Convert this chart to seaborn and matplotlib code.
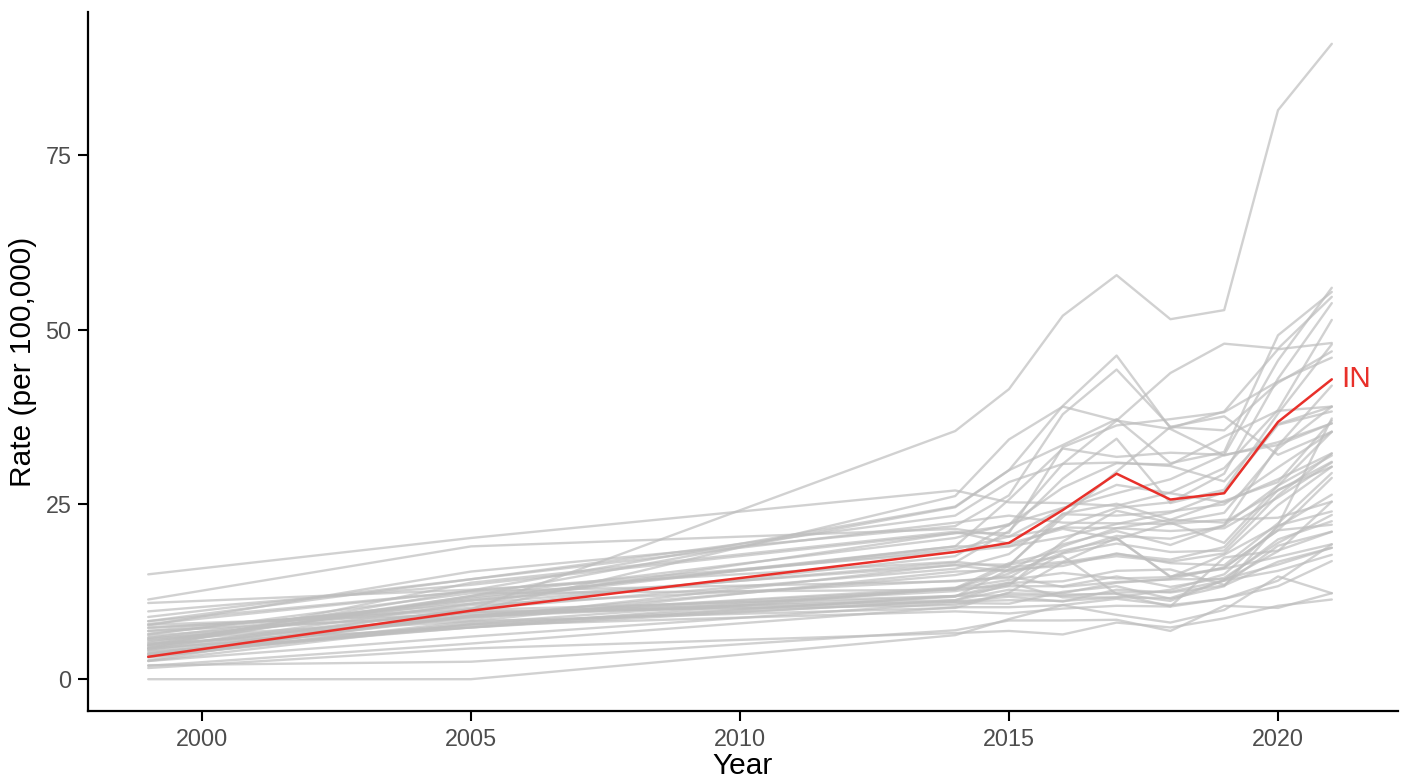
import pandas as pd
import seaborn as sns
import matplotlib.pyplot as plt

# Drug overdose death rates (per 100,000) by state
years = [1999, 2005, 2014, 2015, 2016, 2017, 2018, 2019, 2020, 2021]

AL = [3.2, 7.8, 11.8, 15.7, 16.2, 18.0, 16.6, 16.3, 22.3, 29.5]
AK = [10.9, 12.8, 16.8, 16.0, 16.8, 20.2, 14.6, 17.8, 22.0, 37.3]
AZ = [8.3, 12.6, 18.2, 19.0, 20.3, 22.2, 23.8, 26.8, 36.4, 38.3]
AR = [3.6, 8.9, 12.6, 13.8, 14.0, 15.5, 15.7, 13.5, 19.1, 21.1]
CA = [7.8, 9.3, 11.1, 11.3, 11.2, 11.7, 12.8, 15.0, 21.8, 26.4]
CO = [6.5, 11.3, 16.3, 15.4, 16.6, 17.6, 16.8, 18.0, 24.9, 30.4]
CT = [7.3, 10.2, 17.6, 22.1, 27.4, 30.9, 30.7, 34.7, 38.4, 39.0]
DE = [6.9, 10.8, 20.9, 22.0, 30.8, 37.0, 43.8, 48.0, 47.3, 54.7]
FL = [6.4, 12.3, 12.8, 16.2, 23.7, 25.1, 22.8, 25.5, 28.2, 37.0]
GA = [3.6, 7.4, 11.9, 13.3, 13.3, 14.7, 13.2, 14.5, 19.5, 23.5]
HI = [6.2, 9.6, 11.3, 12.8, 12.3, 13.8, 14.3, 14.3, 16.4, 18.8]
ID = [3.9, 7.4, 13.0, 14.2, 15.2, 14.4, 14.6, 15.8, 17.5, 19.3]
IL = [5.7, 10.6, 14.1, 14.5, 19.0, 21.6, 22.8, 22.4, 27.0, 31.1]
IN = [3.2, 9.8, 18.2, 19.5, 24.2, 29.4, 25.7, 26.6, 36.8, 42.9]
IA = [1.9, 5.1, 10.3, 10.3, 10.6, 11.5, 10.6, 11.5, 13.3, 16.9]
KS = [2.6, 7.9, 11.1, 11.8, 11.1, 12.8, 12.4, 13.4, 16.8, 18.8]
KY = [4.9, 12.7, 24.7, 29.9, 33.5, 37.2, 30.9, 32.5, 49.2, 55.4]
LA = [5.4, 11.2, 19.0, 19.0, 21.8, 24.5, 25.3, 29.4, 43.0, 53.8]
ME = [4.4, 10.8, 16.7, 21.2, 28.7, 34.4, 25.2, 27.1, 38.0, 47.9]
MD = [9.7, 13.5, 20.9, 20.9, 33.2, 36.3, 37.2, 38.2, 42.6, 46.0]
MA = [5.9, 11.5, 19.0, 25.7, 33.0, 31.8, 32.4, 32.1, 33.5, 36.6]
MI = [4.9, 11.7, 18.6, 20.4, 24.4, 27.8, 26.6, 25.3, 28.6, 32.3]
MN = [2.6, 6.1, 10.9, 10.8, 12.5, 13.3, 11.5, 13.3, 22.0, 24.0]
MS = [3.7, 9.6, 10.6, 12.3, 12.1, 12.2, 11.2, 14.2, 20.0, 22.6]
MO = [4.2, 10.0, 15.8, 17.9, 23.6, 23.4, 24.0, 25.0, 30.3, 35.4]
MT = [4.8, 8.9, 11.9, 13.8, 11.7, 11.7, 11.6, 14.1, 15.5, 17.8]
NE = [1.6, 4.4, 6.6, 6.9, 6.4, 8.1, 7.4, 8.7, 10.5, 11.4]
NV = [11.4, 19.0, 21.5, 20.4, 21.7, 21.6, 21.2, 21.6, 26.0, 31.0]
NH = [2.7, 9.7, 26.2, 34.3, 39.0, 37.0, 35.8, 32.0, 33.9, 36.6]
NJ = [6.9, 9.0, 14.9, 16.3, 23.2, 29.7, 36.1, 37.6, 32.1, 35.4]
NM = [15.0, 20.2, 27.0, 25.3, 25.2, 24.8, 26.7, 30.2, 38.5, 51.4]
NY = [5.1, 7.4, 11.3, 13.6, 18.0, 19.4, 18.2, 18.4, 26.3, 32.3]
NC = [4.1, 9.1, 12.9, 13.4, 19.7, 24.1, 22.4, 23.8, 33.0, 39.0]
ND = [0.0, 0.0, 6.3, 8.6, 10.6, 9.2, 8.1, 9.9, 14.7, 12.3]
OH = [4.7, 11.9, 24.6, 29.9, 39.1, 46.3, 35.9, 38.3, 47.2, 48.1]
OK = [4.4, 13.8, 21.1, 19.4, 21.5, 20.1, 14.7, 15.9, 21.3, 22.1]
OR = [7.4, 9.9, 11.9, 12.0, 11.9, 12.4, 12.5, 14.1, 18.3, 25.4]
PA = [7.7, 15.4, 21.9, 26.3, 37.9, 44.3, 36.1, 35.6, 42.4, 46.9]
RI = [8.3, 14.3, 23.4, 28.2, 30.8, 31.0, 30.5, 28.3, 36.5, 39.0]
SC = [3.3, 9.1, 13.1, 15.1, 18.1, 20.5, 20.1, 22.0, 33.4, 42.0]
SD = [2.0, 2.5, 7.0, 8.4, 8.4, 8.5, 6.9, 10.5, 10.2, 12.3]
TN = [5.2, 11.9, 20.2, 22.2, 24.5, 26.6, 28.6, 32.1, 45.6, 56.0]
TX = [4.4, 7.7, 9.7, 9.4, 10.1, 10.5, 10.4, 11.5, 14.1, 19.3]
UT = [8.9, 14.3, 22.4, 23.4, 22.4, 22.3, 22.2, 22.8, 23.1, 25.4]
VT = [3.4, 8.0, 13.0, 16.6, 18.4, 20.0, 22.4, 19.5, 27.7, 35.4]
VA = [5.6, 8.3, 10.2, 12.4, 16.7, 17.9, 17.1, 18.9, 27.1, 30.4]
WA = [7.9, 12.6, 14.0, 14.7, 13.2, 13.9, 14.3, 16.0, 21.3, 28.8]
WV = [4.5, 10.0, 35.5, 41.5, 52.0, 57.8, 51.5, 52.8, 81.4, 90.9]
WI = [3.1, 8.3, 15.4, 15.6, 19.3, 21.2, 19.2, 22.0, 27.7, 32.0]
WY = [5.9, 8.6, 16.4, 16.4, 17.6, 12.2, 10.4, 17.4, 18.4, 21.1]

highlight = "IN"

states = {
    "AL": AL, "AK": AK, "AZ": AZ, "AR": AR, "CA": CA, "CO": CO, "CT": CT,
    "DE": DE, "FL": FL, "GA": GA, "HI": HI, "ID": ID, "IL": IL, "IN": IN,
    "IA": IA, "KS": KS, "KY": KY, "LA": LA, "ME": ME, "MD": MD, "MA": MA,
    "MI": MI, "MN": MN, "MS": MS, "MO": MO, "MT": MT, "NE": NE, "NV": NV,
    "NH": NH, "NJ": NJ, "NM": NM, "NY": NY, "NC": NC, "ND": ND, "OH": OH,
    "OK": OK, "OR": OR, "PA": PA, "RI": RI, "SC": SC, "SD": SD, "TN": TN,
    "TX": TX, "UT": UT, "VT": VT, "VA": VA, "WA": WA, "WV": WV, "WI": WI,
    "WY": WY,
}

# Long format table
rows = [(s, y, v) for s, vals in states.items() for y, v in zip(years, vals)]
df = pd.DataFrame(rows, columns=["state", "year", "rate"])

sns.set_style("ticks")
plt.rcParams["font.family"] = ["Liberation Sans", "DejaVu Sans"]

red = "#E8302A"

fig, ax = plt.subplots(figsize=(14.05, 7.79), dpi=100)
fig.subplots_adjust(left=0.0626, right=0.995, bottom=0.0873, top=0.9846)

# All other states in grey
sns.lineplot(
    data=df[df["state"] != highlight],
    x="year", y="rate", units="state", estimator=None,
    color="#BEBEBE", alpha=0.7, linewidth=1.7, ax=ax
)
# Highlighted state on top
sns.lineplot(
    data=df[df["state"] == highlight],
    x="year", y="rate", color=red, linewidth=1.8, ax=ax
)
ax.text(2021.18, IN[-1], highlight, color=red, fontsize=21.5,
        ha="left", va="center")

ax.set_xlim(1997.88, 2022.23)
ax.set_ylim(-4.55, 95.45)
ax.set_xticks([2000, 2005, 2010, 2015, 2020])
ax.set_yticks([0, 25, 50, 75])
ax.tick_params(labelsize=16.8, labelcolor="#4D4D4D", length=7, width=1.5,
               color="black", pad=5)
ax.set_xlabel("Year", fontsize=21.5, labelpad=1, color="black")
ax.set_ylabel("Rate (per 100,000)", fontsize=21.5, labelpad=6, color="black")

sns.despine(ax=ax)
for side in ["left", "bottom"]:
    ax.spines[side].set_linewidth(1.6)
    ax.spines[side].set_color("black")

fig.savefig("out.png", dpi=100)
plt.close()
